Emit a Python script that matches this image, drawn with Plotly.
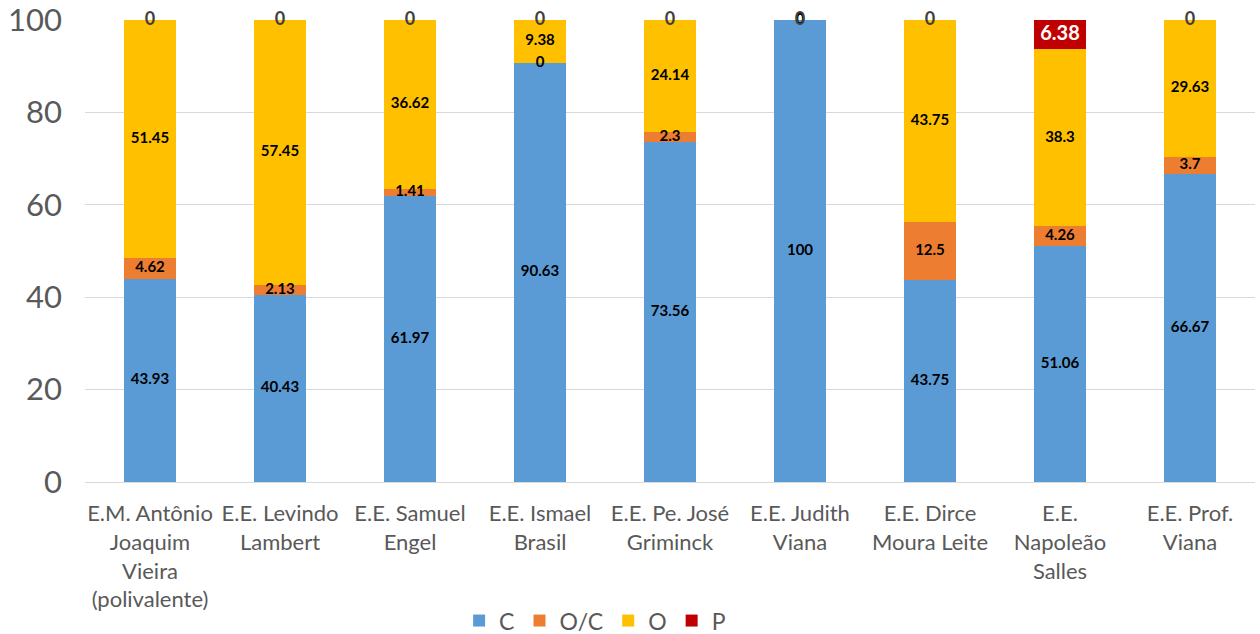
import plotly.graph_objects as go

# Dados
escolas = [
    "E.M. Antônio<br>Joaquim<br>Vieira<br>(polivalente)",
    "E.E. Levindo<br>Lambert",
    "E.E. Samuel<br>Engel",
    "E.E. Ismael<br>Brasil",
    "E.E. Pe. José<br>Griminck",
    "E.E. Judith<br>Viana",
    "E.E. Dirce<br>Moura Leite",
    "E.E.<br>Napoleão<br>Salles",
    "E.E. Prof.<br>Viana",
]
c_vals = [43.93, 40.43, 61.97, 90.63, 73.56, 100, 43.75, 51.06, 66.67]
oc_vals = [4.62, 2.13, 1.41, 0, 2.3, 0, 12.5, 4.26, 3.7]
o_vals = [51.45, 57.45, 36.62, 9.38, 24.14, 0, 43.75, 38.3, 29.63]
p_vals = [0, 0, 0, 0, 0, 0, 0, 6.38, 0]

series = [
    ("C", c_vals, "#5B9BD5"),
    ("O/C", oc_vals, "#ED7D31"),
    ("O", o_vals, "#FFC000"),
    ("P", p_vals, "#C00000"),
]

FONT = "Lato, 'Open Sans', sans-serif"

fig = go.Figure()

# barras empilhadas
for nome, vals, cor in series:
    fig.add_trace(go.Bar(
        x=escolas, y=vals, name=nome,
        marker_color=cor, marker_line_width=0,
        hoverinfo="skip",
    ))

# rótulos de dados no meio de cada segmento (inclusive os zeros)
# somas de 100.01 (arredondamento) ficam presas em 100 para não sumirem
base = [0] * len(escolas)
for nome, vals, cor in series:
    meio = [min(b + v / 2, 100) for b, v in zip(base, vals)]
    if nome == "P":
        cores = ["#FFFFFF" if v > 0 else "#404040" for v in vals]
        tamanhos = [20 if v > 0 else 18 for v in vals]
    else:
        cores = ["#000000"] * len(vals)
        tamanhos = [15] * len(vals)
    fig.add_trace(go.Scatter(
        x=escolas, y=meio, mode="text",
        text=[f"<b>{v:g}</b>" for v in vals],
        textposition="middle center",
        textfont=dict(family=FONT, size=tamanhos, color=cores),
        showlegend=False, hoverinfo="skip", cliponaxis=False,
    ))
    base = [b + v for b, v in zip(base, vals)]

fig.update_layout(
    barmode="stack",
    bargap=0.6,
    width=1260, height=634,
    plot_bgcolor="white", paper_bgcolor="white",
    margin=dict(l=85, r=5, t=20, b=152, autoexpand=False),
    font=dict(family=FONT, color="#595959"),
    showlegend=True,
    legend=dict(
        orientation="h", x=0.436, xanchor="center", y=-0.30, yanchor="middle",
        font=dict(size=23, color="#595959"),
        traceorder="normal", itemwidth=30,
    ),
    xaxis=dict(
        tickfont=dict(size=22, color="#595959"),
        showgrid=False, showline=True, linecolor="#D9D9D9",
        ticks="", ticklabelstandoff=12, automargin=False,
    ),
    yaxis=dict(
        range=[0, 100], tickvals=[0, 20, 40, 60, 80, 100],
        tickfont=dict(size=31, color="#595959"),
        showgrid=True, gridcolor="#D9D9D9", zeroline=False,
        ticks="", ticklabelstandoff=22, automargin=False,
        ticklabeloverflow="allow",
    ),
)

# tira a margem de 8px do body para a figura ocupar a janela inteira
fig.write_html(
    "out.html",
    config={"displayModeBar": False},
    post_script="document.body.style.margin='0';",
)
